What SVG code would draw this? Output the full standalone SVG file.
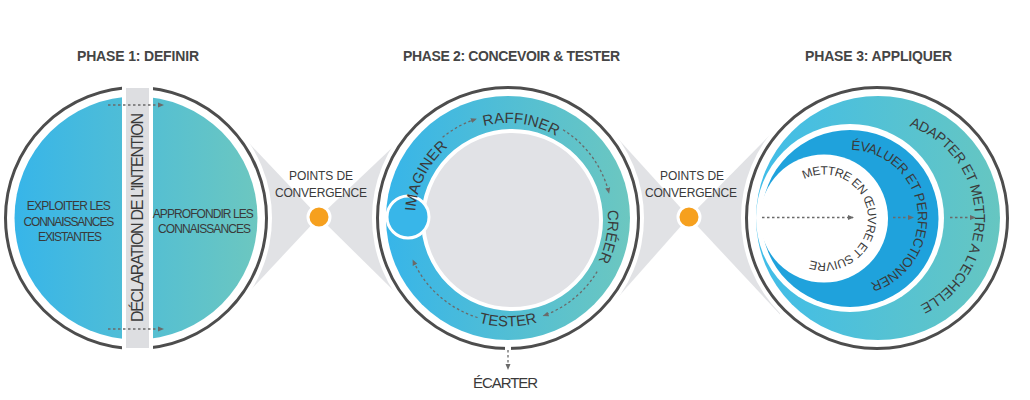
<svg xmlns="http://www.w3.org/2000/svg" width="1030" height="400" viewBox="0 0 1030 400">
<defs>
  <linearGradient id="g1" x1="0" y1="0" x2="1" y2="0">
    <stop offset="0" stop-color="#37b5e9"/>
    <stop offset="1" stop-color="#6cc7c0"/>
  </linearGradient>
  <linearGradient id="g3" x1="0" y1="0" x2="1" y2="0">
    <stop offset="0" stop-color="#40bde9"/>
    <stop offset="1" stop-color="#66c6c1"/>
  </linearGradient>
  <marker id="ah" viewBox="0 0 6 6" refX="5" refY="3" markerWidth="6" markerHeight="6" markerUnits="userSpaceOnUse" orient="auto">
    <path d="M0,0.5 L6,3 L0,5.5 z" fill="#6a6a6a"/>
  </marker>
  <path id="p_raff" d="M 508 313 A 95 95 0 1 1 508 123 A 95 95 0 1 1 508 313"/>
  <path id="p_imag" d="M 508 311 A 93 93 0 1 1 508 125 A 93 93 0 1 1 508 311"/>
  <path id="p_creer" d="M 508 318 A 100 100 0 1 1 508 118 A 100 100 0 1 1 508 318"/>
  <path id="p_test" d="M 508 109.5 A 108.5 108.5 0 1 0 508 326.5 A 108.5 108.5 0 1 0 508 109.5"/>
  <path id="p_adapt" d="M 878 315 A 97 97 0 1 1 878 121 A 97 97 0 1 1 878 315"/>
  <path id="p_eval" d="M 850 286 A 68 68 0 1 1 850 150 A 68 68 0 1 1 850 286"/>
  <path id="p_mettre" d="M 780 218.5 A 44 44 0 1 1 868 218.5 A 44 44 0 1 1 780 218.5"/>
</defs>
<style>
  .bg{fill:#fff}
  .ring{fill:none;stroke:#4d4d4d;stroke-width:3}
  .lbl{font-family:"Liberation Sans",Arial,sans-serif;fill:#3a3a3a}
  .hdr{font-family:"Liberation Sans",Arial,sans-serif;font-weight:bold;font-size:14px;fill:#454545}
  .dash{fill:none;stroke:#6a6a6a;stroke-width:1.3;stroke-dasharray:2.5 2.5;marker-end:url(#ah)}
  .conv{fill:#e1e2e5}
  .dot{fill:#f6a01e;stroke:#fff;stroke-width:3}
</style>
<rect width="1030" height="400" fill="#fff"/>

<!-- headers -->
<text class="hdr" x="138" y="61" text-anchor="middle" textLength="122">PHASE 1: DEFINIR</text>
<text class="hdr" x="511.5" y="61" text-anchor="middle" textLength="217">PHASE 2: CONCEVOIR &amp; TESTER</text>
<text class="hdr" x="878.5" y="61" text-anchor="middle" textLength="147">PHASE 3: APPLIQUER</text>

<!-- convergence points -->
<g id="conv1">
  <polygon class="conv" points="230,123 230,312 319,217"/>
  <polygon class="conv" points="410,130.7 410,306.8 319,217"/>
  <circle class="dot" cx="319" cy="217" r="11"/>
  <text class="lbl" font-size="12" x="321" y="180" text-anchor="middle" textLength="64">POINTS DE</text>
  <text class="lbl" font-size="12" x="321" y="197" text-anchor="middle" textLength="92">CONVERGENCE</text>
</g>
<g id="conv2">
  <polygon class="conv" points="600,118.7 600,317.6 689,217"/>
  <polygon class="conv" points="780,124.7 780,314.4 689,217"/>
  <circle class="dot" cx="689" cy="217" r="11"/>
  <text class="lbl" font-size="12" x="692" y="180" text-anchor="middle" textLength="64">POINTS DE</text>
  <text class="lbl" font-size="12" x="691" y="197" text-anchor="middle" textLength="92">CONVERGENCE</text>
</g>

<!-- phase 1 -->
<g id="phase1">
  <circle class="bg" cx="136" cy="218" r="136"/>
  <circle class="ring" cx="136" cy="218" r="130.5"/>
  <circle cx="136" cy="218" r="121.5" fill="url(#g1)"/>
  <rect x="122" y="80" width="31" height="275" fill="#fff"/>
  <rect x="126" y="88" width="23" height="260" fill="#dddee1"/>
  <text class="lbl" font-size="16" transform="translate(143,217.5) rotate(-90)" text-anchor="middle" textLength="209">DÉCLARATION DE L’INTENTION</text>
  <text class="lbl" font-size="12" text-anchor="middle">
    <tspan x="70" y="210" textLength="84">EXPLOITER LES</tspan>
    <tspan x="70" y="225.5" textLength="91">CONNAISSANCES</tspan>
    <tspan x="70" y="241" textLength="64">EXISTANTES</tspan>
  </text>
  <text class="lbl" font-size="12" text-anchor="middle">
    <tspan x="204.5" y="218" textLength="101">APPROFONDIR LES</tspan>
    <tspan x="204.5" y="233" textLength="93">CONNAISSANCES</tspan>
  </text>
</g>

<!-- phase 2 -->
<g id="phase2">
  <circle class="bg" cx="508" cy="218" r="136"/>
  <circle class="ring" cx="508" cy="218" r="130.5"/>
  <rect x="505" y="344" width="6" height="8" fill="#fff"/>
  <circle cx="508" cy="218" r="122" fill="url(#g1)"/>
  <circle cx="512" cy="220" r="89" fill="#e1e2e6" stroke="#fff" stroke-width="4"/>
  <circle cx="408" cy="217" r="21" fill="#38b6e9" stroke="#fff" stroke-width="3"/>
  <text class="lbl" font-size="15"><textPath href="#p_raff" startOffset="52.2%" text-anchor="middle">RAFFINER</textPath></text>
  <text class="lbl" font-size="15"><textPath href="#p_imag" startOffset="32.5%" text-anchor="middle">IMAGINER</textPath></text>
  <text class="lbl" font-size="15"><textPath href="#p_creer" startOffset="77.9%" text-anchor="middle">CRÉER</textPath></text>
  <text class="lbl" font-size="15"><textPath href="#p_test" startOffset="50%" text-anchor="middle">TESTER</textPath></text>
  <text class="lbl" font-size="15" x="505.5" y="388" text-anchor="middle" textLength="65">ÉCARTER</text>
</g>

<!-- phase 3 -->
<g id="phase3">
  <circle class="bg" cx="877" cy="218" r="136"/>
  <circle class="ring" cx="877" cy="218" r="130.5"/>
  <circle cx="878" cy="218" r="122" fill="url(#g3)"/>
  <circle cx="850" cy="218" r="94" fill="#fff"/>
  <circle cx="850" cy="218.5" r="88.5" fill="#1fa2dc"/>
  <circle cx="824" cy="218.5" r="64" fill="#fff"/>
  <text class="lbl" font-size="14" letter-spacing="-0.35"><textPath href="#p_adapt" startOffset="74%" text-anchor="middle">ADAPTER ET METTRE A L’ECHELLE</textPath></text>
  <text class="lbl" font-size="13.5" letter-spacing="-0.45"><textPath href="#p_eval" startOffset="72.7%" text-anchor="middle">ÉVALUER ET PERFECTIONNER</textPath></text>
  <text class="lbl" font-size="12" letter-spacing="-0.5"><textPath href="#p_mettre" startOffset="48.75%" text-anchor="middle">METTRE EN ŒUVRE ET SUIVRE</textPath></text>
</g>

<!-- connectors -->
<g id="connectors">
  <path class="dash" d="M108 105 L163 105"/>
  <path class="dash" d="M108 329 L163 329"/>
  <path class="dash" d="M442.6 137.2 A104 104 0 0 1 475.9 119.1"/>
  <path class="dash" d="M563.1 129.8 A104 104 0 0 1 608.9 192.8"/>
  <path class="dash" d="M597.1 271.6 A104 104 0 0 1 543.6 315.7"/>
  <path class="dash" d="M477.6 317.5 A104 104 0 0 1 413 260.3"/>
  <path class="dash" d="M508 350 L508 369"/>
  <path class="dash" d="M762 217.5 L853 217.5"/>
  <path class="dash" d="M893 217.5 L913 217.5"/>
  <path class="dash" d="M950 217.5 L975 217.5"/>
</g>
</svg>
